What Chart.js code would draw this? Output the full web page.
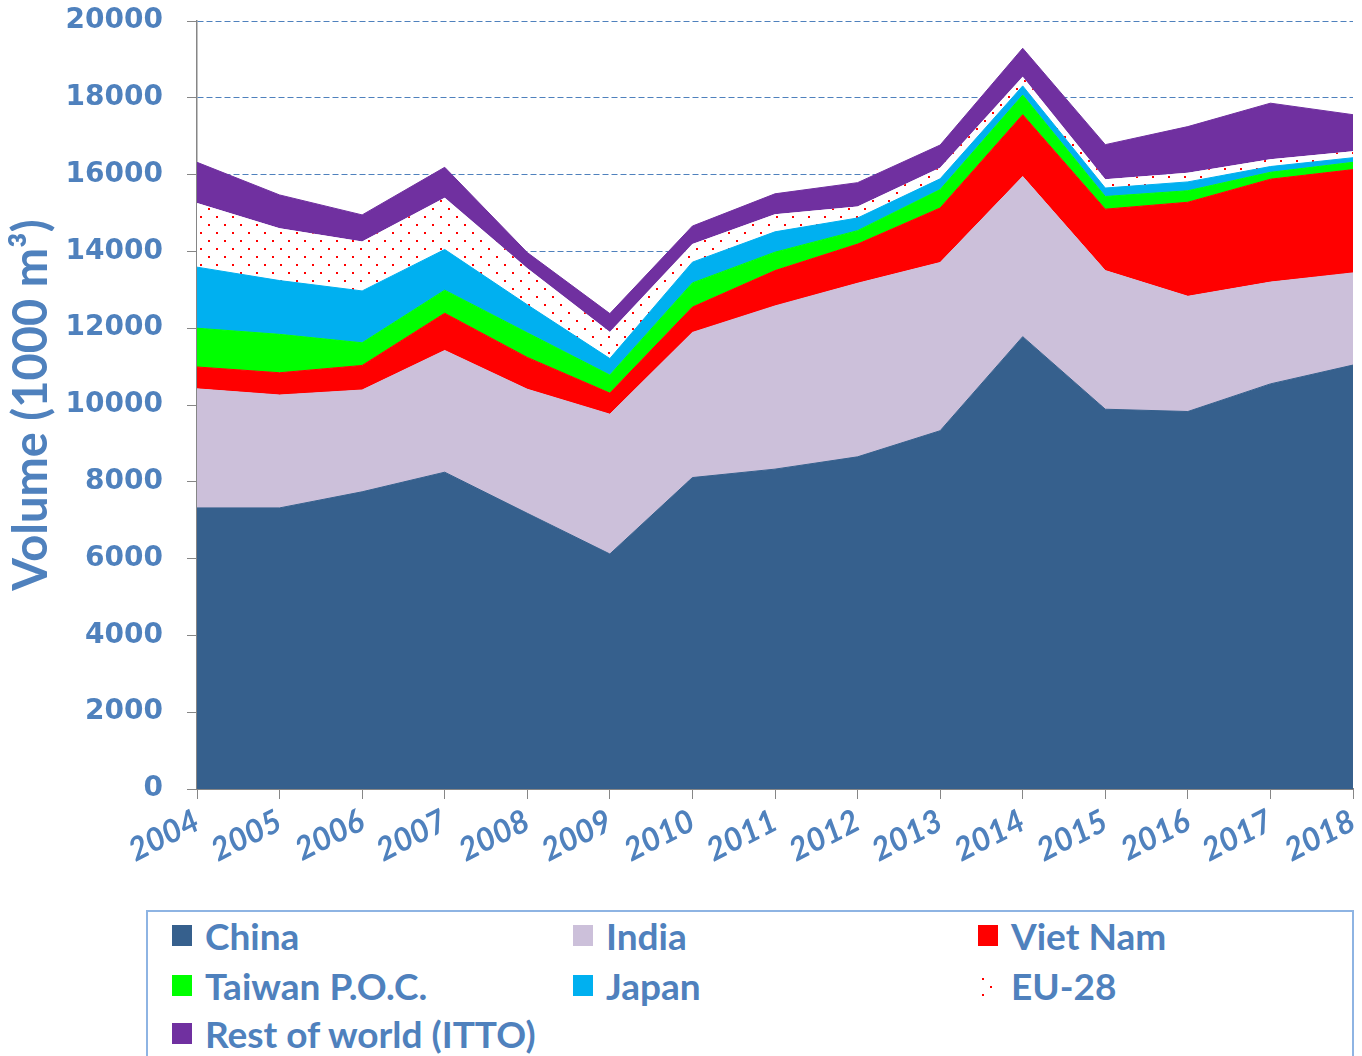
<!DOCTYPE html>
<html>
<head>
<meta charset="utf-8">
<script src="https://cdn.jsdelivr.net/npm/chart.js@4.4.1/dist/chart.umd.min.js"></script>
<style>
  body { margin: 0; background: #fff; width: 1362px; height: 1056px; overflow: hidden; position: relative; }
  #chart { position: absolute; left: 0; top: 0; }
  #legend { position: absolute; left: 146px; top: 910px; width: 1208px; height: 170px;
            border: 2px solid #8EB4E3; box-sizing: border-box; }
  .item { position: absolute; display: flex; align-items: center; height: 40px;
          font: bold 37px Lato, sans-serif; color: #4F81BD; white-space: nowrap; }
  .swatch { width: 20px; height: 21px; margin-right: 13px; flex: none; }
</style>
</head>
<body>
<canvas id="chart" width="1362" height="880"></canvas>
<div id="legend"></div>
<script>
// years and volumes (1000 m3)
const years = ['2004', '2005', '2006', '2007', '2008', '2009', '2010', '2011',
               '2012', '2013', '2014', '2015', '2016', '2017', '2018'];
const china   = [7320, 7320, 7740, 8250, 7180, 6120, 8110, 8330, 8650, 9330, 11780, 9890, 9830, 10550, 11040];
const india   = [3100, 2940, 2650, 3170, 3230, 3640, 3780, 4250, 4520, 4380, 4170, 3610, 3000, 2650, 2400];
const vietnam = [570, 580, 640, 970, 830, 550, 660, 920, 1020, 1420, 1610, 1600, 2450, 2680, 2690];
const taiwan  = [1010, 1000, 590, 600, 640, 470, 630, 480, 350, 480, 510, 330, 300, 180, 190];
const japan   = [1590, 1400, 1350, 1060, 730, 430, 540, 530, 330, 280, 240, 220, 230, 150, 120];
const eu28    = [1670, 1360, 1290, 1350, 950, 690, 470, 460, 300, 290, 240, 230, 240, 190, 170];
const rest    = [1060, 870, 690, 790, 410, 480, 470, 530, 620, 590, 740, 900, 1200, 1460, 950];

const seriesNames = ['China', 'India', 'Viet Nam', 'Taiwan P.O.C.', 'Japan', 'EU-28', 'Rest of world (ITTO)'];
const seriesData = [china, india, vietnam, taiwan, japan, eu28, rest];
const yMin = 0, yMax = 20000, yStep = 2000;

const blue = '#4F81BD';
const axisGray = '#868686';

// red dotted fill for EU-28
function dotPattern() {
  const c = document.createElement('canvas');
  c.width = 16; c.height = 16;
  const g = c.getContext('2d');
  g.fillStyle = '#fff';
  g.fillRect(0, 0, 16, 16);
  g.fillStyle = '#FF0000';
  g.fillRect(0, 0, 2, 2);
  g.fillRect(8, 8, 2, 2);
  return c;
}
const patCanvas = dotPattern();
const ctx = document.getElementById('chart').getContext('2d');
const euFill = ctx.createPattern(patCanvas, 'repeat');

const colors = ['#36608D', '#CCC0DA', '#FF0000', '#00FF00', '#00B0F0', euFill, '#7030A0'];
const borders = ['#36608D', '#CCC0DA', '#FF0000', '#00FF00', '#00B0F0', 'rgba(0,0,0,0)', '#7030A0'];

const datasets = seriesNames.map((name, i) => ({
  label: name,
  data: seriesData[i],
  backgroundColor: colors[i],
  borderColor: borders[i],
  borderWidth: 1,
  fill: i === 0 ? 'origin' : '-1',
  pointRadius: 0,
  tension: 0
}));

new Chart(ctx, {
  type: 'line',
  data: { labels: years, datasets: datasets },
  options: {
    responsive: false,
    animation: false,
    layout: { padding: { top: 21, right: 9, left: 0, bottom: 0 } },
    plugins: { legend: { display: false }, tooltip: { enabled: false } },
    scales: {
      x: {
        grid: { drawOnChartArea: false, drawTicks: true, tickLength: 10, tickColor: axisGray },
        border: { color: axisGray, width: 2 },
        ticks: {
          color: blue, autoSkip: false, maxRotation: 27, minRotation: 27, padding: 3,
          font: { family: 'Lato', weight: 'bold', style: 'italic', size: 32 }
        },
        afterFit: (s) => { s.height = 91; s.paddingLeft = 0; s.paddingRight = 0; }
      },
      y: {
        stacked: true,
        min: yMin, max: yMax,
        grid: { color: blue, lineWidth: 1, tickLength: 10, tickColor: axisGray },
        border: { color: axisGray, width: 1.5, dash: [6, 3] },
        ticks: {
          stepSize: yStep, color: blue, padding: 24,
          font: { family: 'DejaVu Sans', weight: 'bold', size: 28 },
          callback: (v) => String(v)
        },
        title: {
          display: true, text: 'Volume (1000 m³)', color: blue,
          font: { family: 'Lato', weight: 'bold', size: 47 },
          padding: { top: 4, bottom: 0 }
        },
        afterFit: (s) => { s.width = 197; s.paddingTop = 0; s.paddingBottom = 0; }
      }
    }
  }
});

// legend in three columns, like the picture
const legend = document.getElementById('legend');
const colLeft = [24, 425, 830];
const rowTop = [3, 53, 101];
seriesNames.forEach((name, i) => {
  const item = document.createElement('div');
  item.className = 'item';
  item.style.left = colLeft[i % 3] + 'px';
  item.style.top = rowTop[Math.floor(i / 3)] + 'px';
  const sw = document.createElement('span');
  sw.className = 'swatch';
  if (i === 5) {
    sw.style.backgroundImage = 'url(' + patCanvas.toDataURL() + ')';
    sw.style.backgroundPosition = '4px 3px';
    sw.style.width = '14px';
    sw.style.marginRight = '19px';
  } else {
    sw.style.background = colors[i];
  }
  item.appendChild(sw);
  item.appendChild(document.createTextNode(name));
  legend.appendChild(item);
});
</script>
</body>
</html>
